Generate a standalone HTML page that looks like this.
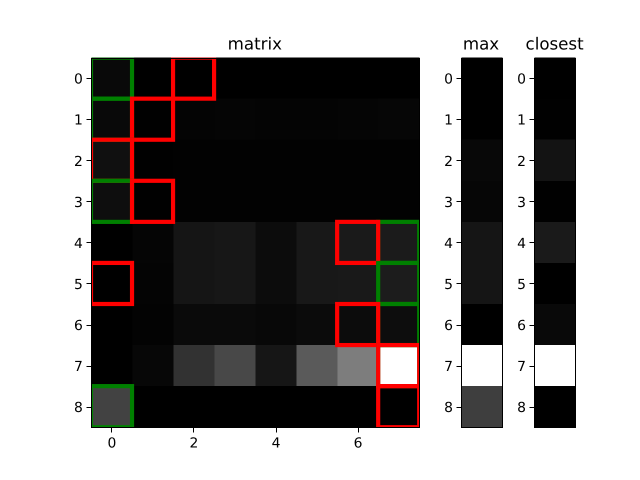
<!DOCTYPE html>
<html>
<head>
<meta charset="utf-8">
<style>
html,body{margin:0;padding:0;background:#fff;}
#chart{display:block;width:640px;height:480px;}
text{font-family:"DejaVu Sans","Liberation Sans",sans-serif;fill:#000;text-rendering:geometricPrecision;}
</style>
</head>
<body>
<svg id="chart" xmlns="http://www.w3.org/2000/svg" width="640" height="480" viewBox="0 0 640 480"></svg>
<script>
const matrixRow0 = [9,0,0,0,0,0,0,0];
const matrixRow1 = [9,1,4,5,4,4,5,6];
const matrixRow2 = [16,1,2,2,2,2,2,2];
const matrixRow3 = [14,1,2,2,2,2,2,2];
const matrixRow4 = [0,5,21,23,12,24,26,27];
const matrixRow5 = [0,4,21,23,12,24,25,28];
const matrixRow6 = [0,3,10,10,8,11,12,13];
const matrixRow7 = [0,7,50,72,22,90,125,255];
const matrixRow8 = [66,0,0,0,0,0,0,0];
const matrixValues = [matrixRow0,matrixRow1,matrixRow2,matrixRow3,matrixRow4,matrixRow5,matrixRow6,matrixRow7,matrixRow8];
const maxValues = [0,0,8,6,21,21,0,255,62];
const closestValues = [0,1,19,1,26,0,9,255,0];
const maxColumn = [0,0,0,0,7,7,7,7,0];
const closestColumn = [2,1,0,1,6,0,6,7,7];
const rowTicks = [0,1,2,3,4,5,6,7,8];
const columnTicks = [0,2,4,6];

const NS = 'http://www.w3.org/2000/svg';
const svg = document.getElementById('chart');
const top_ = 57.6, bottom_ = 427.2;

function yScale(r){ return top_ + (r + 0.5) * (bottom_ - top_) / rowTicks.length; }
function xScaleFor(left, right, n){ return function(c){ return left + (c + 0.5) * (right - left) / n; }; }
function grey(v){ return 'rgb(' + v + ',' + v + ',' + v + ')'; }
function make(tag, attrs, parent){
  const el = document.createElementNS(NS, tag);
  for (const k in attrs) el.setAttribute(k, attrs[k]);
  parent.appendChild(el);
  return el;
}
function cell(parent, x0, x1, y0, y1, v){
  const el = make('rect', {x:x0, y:y0, width:x1-x0, height:y1-y0, fill:grey(v), 'shape-rendering':'crispEdges'}, parent);
  
  
}
function drawFrame(parent, left, right, xTicks, xOf, title, titleX){
  const fx0 = Math.floor(left) + 0.5, fx1 = Math.floor(right) + 0.5;
  const fy0 = 58.5, fy1 = 427.5;
  const frame = make('rect', {x:fx0, y:fy0, width:fx1-fx0, height:fy1-fy0, fill:'none', stroke:'#000', 'stroke-width':1, 'shape-rendering':'crispEdges'}, parent);
  
  
  rowTicks.forEach(function(r){
    const ty = Math.round(yScale(r)) + 0.5;
    const t = make('line', {x1:fx0-5, x2:fx0, y1:ty, y2:ty, stroke:'#000', 'stroke-width':1, 'shape-rendering':'crispEdges'}, parent);
    
    
    const l = make('text', {x:left-8.6, y:yScale(r)+5.5, 'text-anchor':'end', 'font-size':'13.89px'}, parent);
    l.textContent = r;
    
    
  });
  xTicks.forEach(function(c){
    const tx = Math.floor(xOf(c)) + 0.5;
    const t = make('line', {x1:tx, x2:tx, y1:fy1, y2:fy1+5, stroke:'#000', 'stroke-width':1, 'shape-rendering':'crispEdges'}, parent);
    
    
    const l = make('text', {x:xOf(c), y:447.5, 'text-anchor':'middle', 'font-size':'13.89px'}, parent);
    l.textContent = c;
    
    
  });
  const h = make('text', {x:titleX, y:49.3, 'text-anchor':'middle', 'font-size':'16.67px'}, parent);
  h.textContent = title;
  
  
}

/* main matrix */
const mLeft = 91.4, mRight = 419.6, nCols = matrixRow0.length;
const boxShift = -0.4;
const mainG = make('g', {}, svg);


const defs = make('defs', {}, svg);
const clip = make('clipPath', {id:'main-clip'}, defs);
make('rect', {x:mLeft, y:top_, width:mRight-mLeft, height:bottom_-top_}, clip);
const xm = xScaleFor(mLeft, mRight, nCols);
const colW = (mRight-mLeft)/nCols, rowH = (bottom_-top_)/rowTicks.length;
matrixValues.forEach(function(row, r){
  row.forEach(function(v, c){
    cell(mainG, xm(c)-colW/2, xm(c)+colW/2, yScale(r)-rowH/2, yScale(r)+rowH/2, v);
  });
});
const boxes = make('g', {'clip-path':'url(#main-clip)'}, mainG);
rowTicks.forEach(function(r){
  const g = make('rect', {x:xm(maxColumn[r])-colW/2+boxShift, y:yScale(r)-rowH/2, width:colW, height:rowH, fill:'none', stroke:'#008000', 'stroke-width':4.17}, boxes);
  
  
  const b = make('rect', {x:xm(closestColumn[r])-colW/2+boxShift, y:yScale(r)-rowH/2, width:colW, height:rowH, fill:'none', stroke:'#ff0000', 'stroke-width':4.17}, boxes);
  
  
});
drawFrame(mainG, mLeft, mRight, columnTicks, xm, 'matrix', 254.8);

/* max strip */
const maxG = make('g', {}, svg);


maxValues.forEach(function(v, r){
  cell(maxG, 461.6, 502.6, yScale(r)-rowH/2, yScale(r)+rowH/2, v);
});
drawFrame(maxG, 461.6, 502.6, [], null, 'max', 481);

/* closest strip */
const closestG = make('g', {}, svg);


closestValues.forEach(function(v, r){
  cell(closestG, 534.5, 575.5, yScale(r)-rowH/2, yScale(r)+rowH/2, v);
});
drawFrame(closestG, 534.5, 575.5, [], null, 'closest', 554.6);
</script>
</body>
</html>
